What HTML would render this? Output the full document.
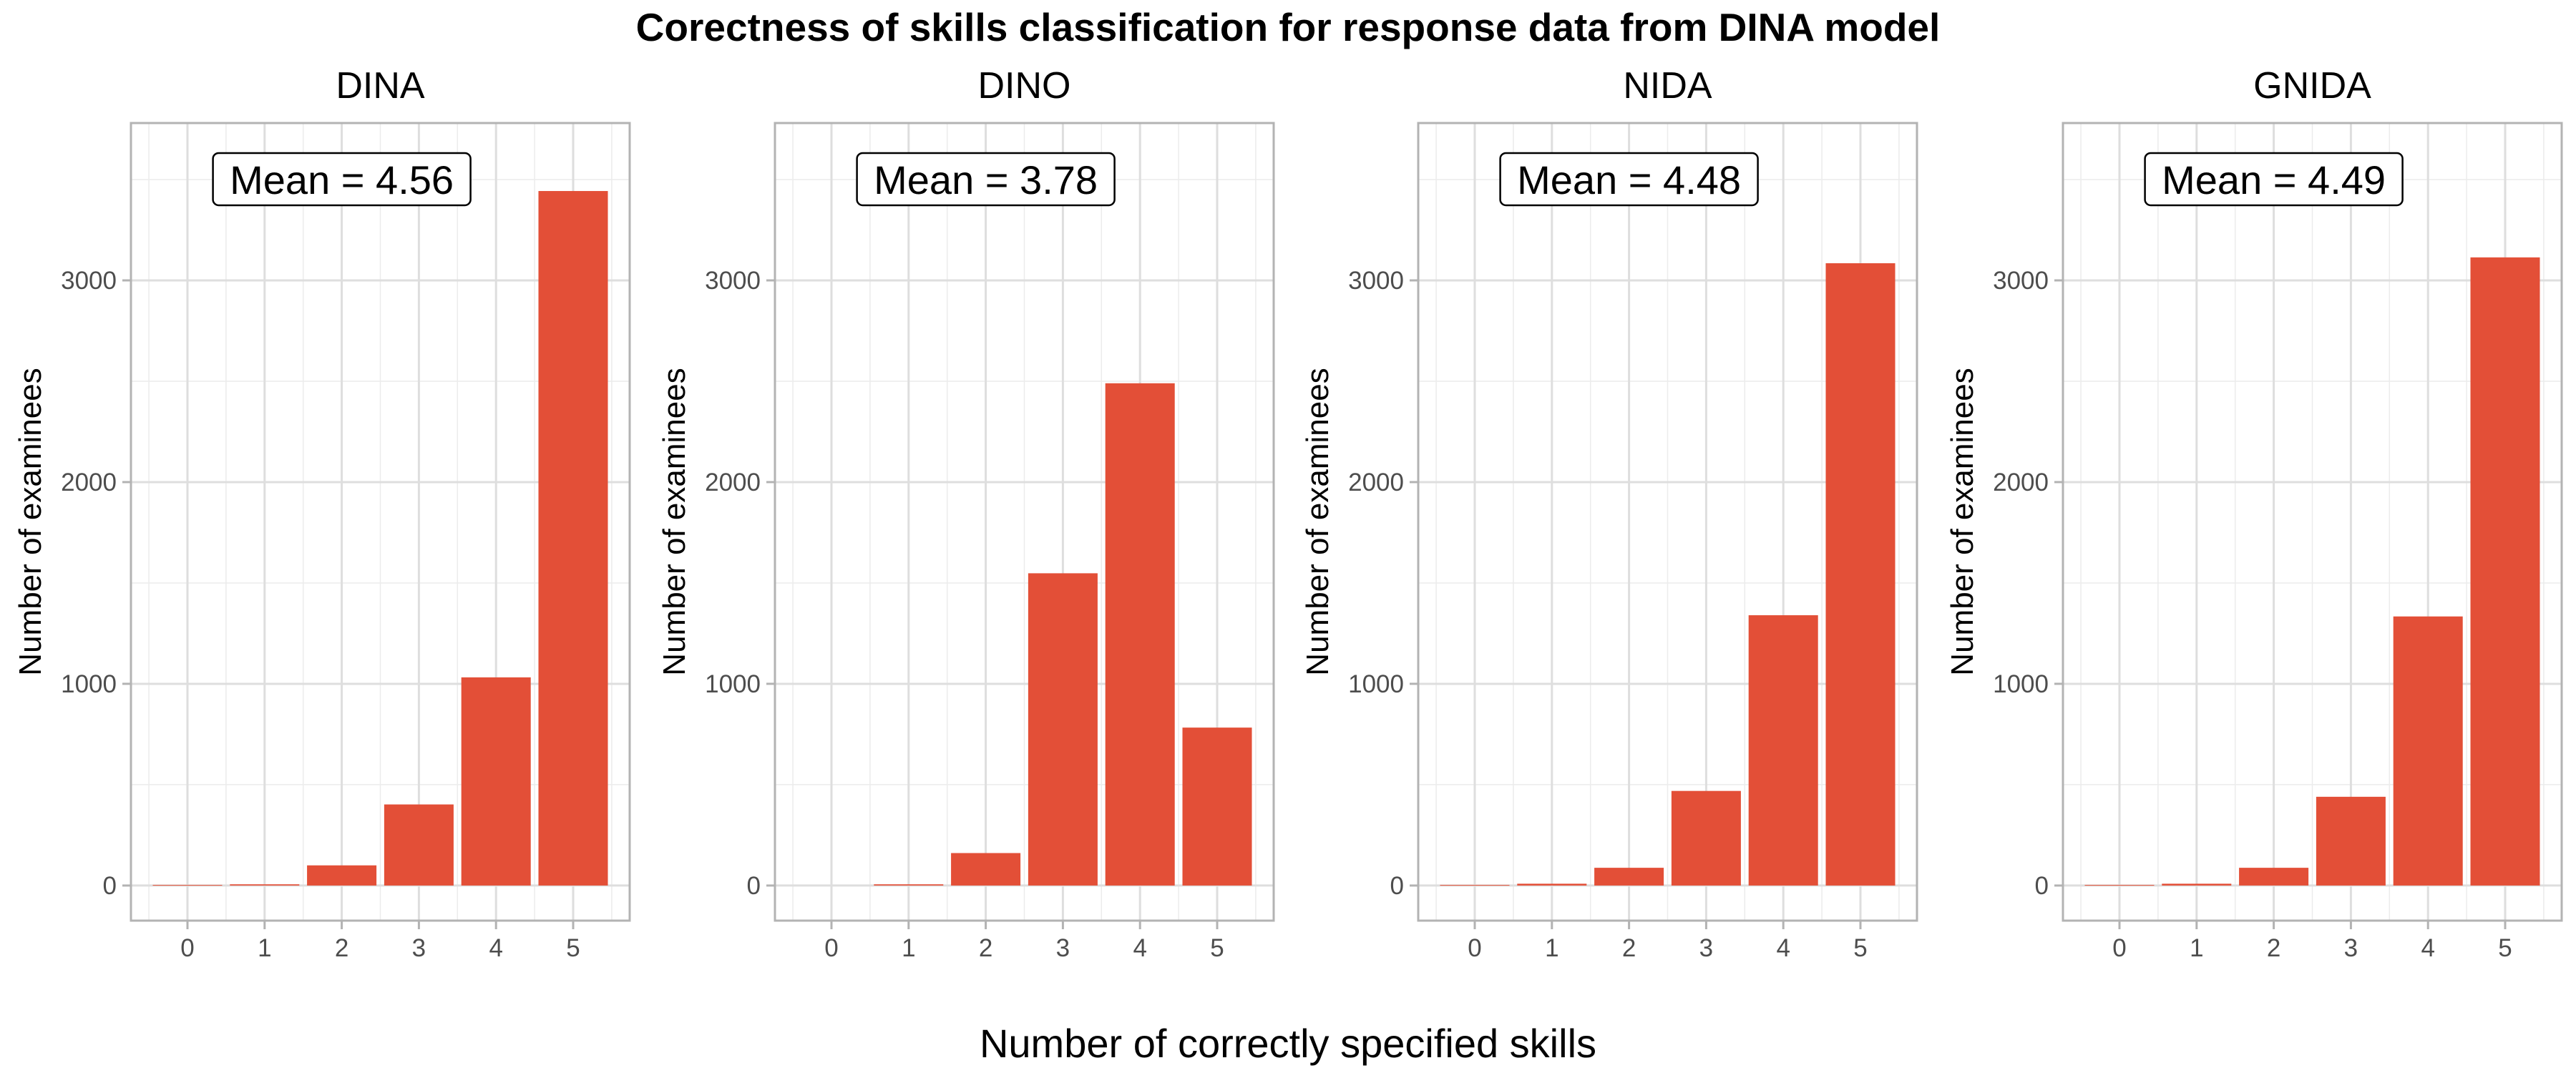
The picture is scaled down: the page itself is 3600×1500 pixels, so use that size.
<!DOCTYPE html>
<html><head><meta charset="utf-8"><style>
html,body{margin:0;padding:0;background:#fff;}
svg{display:block;font-family:"Liberation Sans",Arial,sans-serif;}
</style></head><body>
<svg id="chart" width="3600" height="1500" viewBox="0 0 3600 1500" xmlns="http://www.w3.org/2000/svg">
<rect width="3600" height="1500" fill="#fff"/>
<text x="1800" y="57" text-anchor="middle" font-size="55" font-weight="bold" fill="#000">Corectness of skills classification for response data from DINA model</text>
<text x="1800" y="1478" text-anchor="middle" font-size="56" fill="#000">Number of correctly specified skills</text>
<g id="panels"></g>
</svg>
<script>
const panelNames = ["DINA", "DINO", "NIDA", "GNIDA"];
const categories = [0, 1, 2, 3, 4, 5];
const dinaValues = [3, 6, 100, 402, 1032, 3443];
const dinoValues = [0, 6, 161, 1548, 2490, 783];
const nidaValues = [3, 9, 88, 469, 1340, 3085];
const gnidaValues = [3, 9, 88, 440, 1334, 3114];
const meanLabels = ["Mean = 4.56", "Mean = 3.78", "Mean = 4.48", "Mean = 4.49"];
const yTicks = [0, 1000, 2000, 3000];
const yMinor = [500, 1500, 2500, 3500];
const seriesList = [dinaValues, dinoValues, nidaValues, gnidaValues];

const NS = "http://www.w3.org/2000/svg";
const root = document.getElementById("panels");
const lefts = [183, 1083, 1982, 2883];
const W = 697, plotTop = 172, plotBottom = 1287;
const yMin = -174, yMax = 3780;
function yS(v){ return plotBottom - (v - yMin) / (yMax - yMin) * (plotBottom - plotTop); }
function mk(tag, attrs, parent){
  const e = document.createElementNS(NS, tag);
  for (const k in attrs) e.setAttribute(k, attrs[k]);
  parent.appendChild(e); return e;
}
panelNames.forEach((name, p) => {
  const L = lefts[p];
  const step = (W - 158) / 5;
  const xS = c => L + 79 + c * step;
  const g = mk("g", {}, root);
  
  
  yMinor.forEach(v => {
    const l = mk("line", {x1:L, x2:L+W, y1:yS(v), y2:yS(v), stroke:"#ececec", "stroke-width":1.5}, g);
    
    
  });
  for (let c = -0.5; c <= 5.5; c += 1) {
    const l = mk("line", {x1:xS(c), x2:xS(c), y1:plotTop, y2:plotBottom, stroke:"#ececec", "stroke-width":1.5}, g);
    
    
  }
  yTicks.forEach(v => {
    const l = mk("line", {x1:L, x2:L+W, y1:yS(v), y2:yS(v), stroke:"#dedede", "stroke-width":3}, g);
    
    
  });
  categories.forEach(c => {
    const l = mk("line", {x1:xS(c), x2:xS(c), y1:plotTop, y2:plotBottom, stroke:"#dedede", "stroke-width":3}, g);
    
    
  });
  const vals = seriesList[p];
  categories.forEach((c, i) => {
    const v = vals[i];
    const y0 = yS(0), y1 = yS(v);
    const r = mk("rect", {x:xS(c) - step*0.45, y:Math.min(y0,y1), width:step*0.9, height:Math.max(Math.abs(y0-y1), v>0?1:0), fill:"#E34F37"}, g);
    
    
  });
  const b = mk("rect", {x:L, y:plotTop, width:W, height:plotBottom-plotTop, fill:"none", stroke:"#b3b3b3", "stroke-width":3}, g);
  
  
  yTicks.forEach(v => {
    const t = mk("line", {x1:L-12, x2:L, y1:yS(v), y2:yS(v), stroke:"#b3b3b3", "stroke-width":3}, g);
    
    
    const tx = mk("text", {x:L-20, y:yS(v)+12, "text-anchor":"end", "font-size":35, fill:"#4d4d4d"}, g);
    tx.textContent = String(v);
    
    
  });
  categories.forEach(c => {
    const t = mk("line", {x1:xS(c), x2:xS(c), y1:plotBottom, y2:plotBottom+12, stroke:"#b3b3b3", "stroke-width":3}, g);
    
    
    const tx = mk("text", {x:xS(c), y:1337, "text-anchor":"middle", "font-size":35, fill:"#4d4d4d"}, g);
    tx.textContent = String(c);
    
    
  });
  const st = mk("text", {x:L+W/2, y:137, "text-anchor":"middle", "font-size":52, fill:"#000"}, g);
  st.textContent = name;
  
  
  const yt = mk("text", {x:0, y:0, "text-anchor":"middle", "font-size":44, fill:"#000", transform:"translate(" + (L-126) + "," + ((plotTop+plotBottom)/2) + ") rotate(-90)"}, g);
  yt.textContent = "Number of examinees";
  
  
  const cx = xS(2), cy = yS(3500);
  const lb = mk("rect", {x:cx-180, y:cy-37, width:360, height:73, rx:8, fill:"#fff", stroke:"#000", "stroke-width":2.5}, g);
  
  
  const lt = mk("text", {x:cx, y:cy+20, "text-anchor":"middle", "font-size":56, fill:"#000"}, g);
  lt.textContent = meanLabels[p];
  
  
});
</script>
</body></html>
